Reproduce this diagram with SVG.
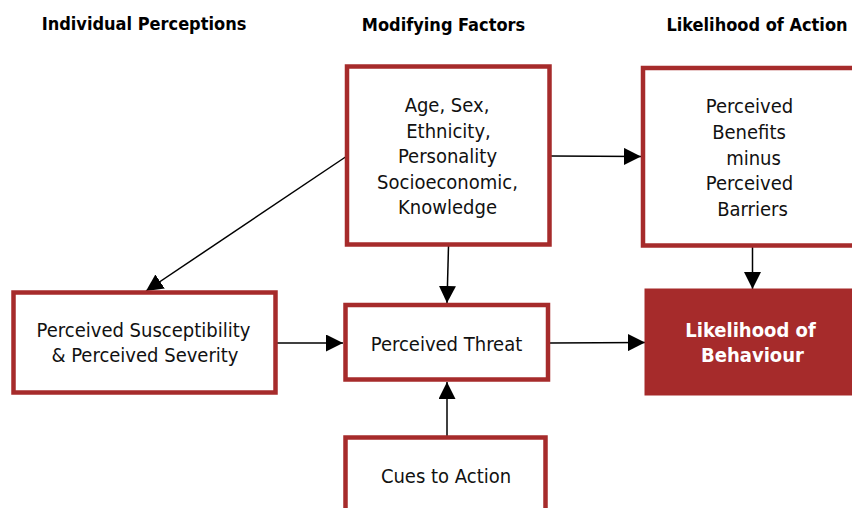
<svg xmlns="http://www.w3.org/2000/svg" width="852" height="508" viewBox="0 0 852 508">
<style>
.box{fill:#fff;stroke:#A62B2B;stroke-width:4.5}
.fill{fill:#A62B2B;stroke:#A62B2B;stroke-width:1}
.t{font-family:"DejaVu Sans Condensed","DejaVu Sans",sans-serif;font-size:20px;fill:#111;text-anchor:middle}
.h{font-family:"DejaVu Sans Condensed","DejaVu Sans",sans-serif;font-size:18px;font-weight:bold;fill:#000;text-anchor:middle}
.w{font-family:"DejaVu Sans Condensed","DejaVu Sans",sans-serif;font-size:20px;font-weight:bold;fill:#fff;text-anchor:middle}
.c{stroke:#000;stroke-width:1.5;fill:none;marker-end:url(#ah)}
</style>
<defs>
<marker id="ah" viewBox="0 0 10 10" refX="10" refY="5" markerWidth="17" markerHeight="17" markerUnits="userSpaceOnUse" orient="auto">
<path d="M0,0 L10,5 L0,10 z" fill="#000"/>
</marker>
</defs>
<g id="headers">
<text class="h" x="144" y="30">Individual Perceptions</text>
<text class="h" x="443.5" y="31">Modifying Factors</text>
<text class="h" x="757" y="31">Likelihood of Action</text>
</g>
<g id="connectors">
<line class="c" x1="347" y1="156" x2="146" y2="291"/>
<line class="c" x1="551" y1="156" x2="641" y2="156.5"/>
<line class="c" x1="448.5" y1="246" x2="447" y2="303"/>
<line class="c" x1="277" y1="343" x2="343" y2="343"/>
<line class="c" x1="550" y1="343" x2="645" y2="342.5"/>
<line class="c" x1="752.5" y1="247" x2="752.5" y2="289"/>
<line class="c" x1="447" y1="436" x2="447" y2="382"/>
</g>
<g id="modifying">
<rect class="box" x="347" y="66.5" width="202.5" height="178"/>
<text class="t" x="447" y="112">Age, Sex,</text>
<text class="t" x="448.5" y="137.5">Ethnicity,</text>
<text class="t" x="447.5" y="163">Personality</text>
<text class="t" x="447.5" y="188.5">Socioeconomic,</text>
<text class="t" x="447.5" y="214">Knowledge</text>
</g>
<g id="benefits">
<rect class="box" x="643" y="68" width="220" height="177.5"/>
<text class="t" x="749.5" y="113">Perceived</text>
<text class="t" x="749" y="138.5">Benefits</text>
<text class="t" x="753.5" y="164.5">minus</text>
<text class="t" x="749.5" y="190">Perceived</text>
<text class="t" x="752.5" y="215.5">Barriers</text>
</g>
<g id="susceptibility">
<rect class="box" x="13.5" y="292.5" width="262" height="100"/>
<text class="t" x="143.5" y="337">Perceived Susceptibility</text>
<text class="t" x="145" y="362">&amp; Perceived Severity</text>
</g>
<g id="threat">
<rect class="box" x="345.5" y="305" width="202.5" height="74.5"/>
<text class="t" x="446.5" y="351">Perceived Threat</text>
</g>
<g id="behaviour">
<rect class="fill" x="645" y="289" width="220" height="106"/>
<text class="w" x="750.5" y="337">Likelihood of</text>
<text class="w" x="752.5" y="362">Behaviour</text>
</g>
<g id="cues">
<rect class="box" x="345.5" y="437.5" width="200" height="100"/>
<text class="t" x="446" y="483">Cues to Action</text>
</g>
</svg>
